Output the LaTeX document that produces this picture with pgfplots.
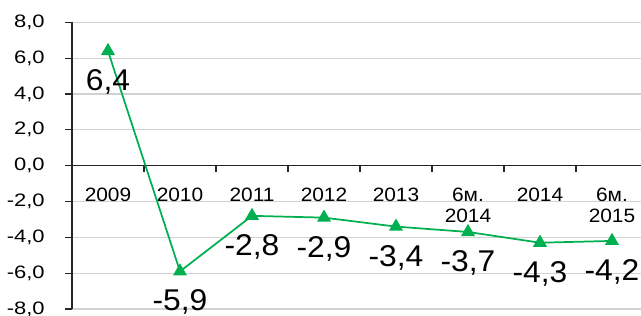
\documentclass[border=0pt]{standalone}
\usepackage{pgfplots}
\pgfplotsset{compat=1.18}
\usepackage{fontspec}
\setmainfont{Liberation Sans}
\newfontfamily\ylabfont[FakeStretch=1.22]{Liberation Sans}
\newfontfamily\xlabfont[FakeStretch=1.08]{Liberation Sans}
\newfontfamily\dlabfont[FakeStretch=1.06]{Liberation Sans}
\definecolor{lgreen}{RGB}{0,176,80}
\begin{document}
\begin{tikzpicture}
\begin{axis}[name=ax, at={(0,0)}, anchor=south west,
 scale only axis, width=432pt, height=215pt,
 xmin=-0.5, xmax=7.5, ymin=-8, ymax=8,
 axis y line=left, axis x line=middle,
 axis line style={-, black!85, line width=0.9pt},
 ytick={-8,-6,...,8}, ymajorgrids, grid style={gray!35, line width=0.9pt},
 yticklabel={\pgfmathprintnumber[fixed,fixed zerofill,precision=1,use comma,assume math mode=true]{\tick}},
 y tick label style={font=\ylabfont\fontsize{13.5}{15}\selectfont, xshift=-12pt},
 xtick={-0.5,0.5,...,7.5}, x tick label as interval,
 hide obscured x ticks=false,
 xticklabels={2009,2010,2011,2012,2013,{6м.\\2014},2014,{6м.\\2015}},
 x tick label style={align=center, font=\xlabfont\fontsize{14.5}{15.75}\selectfont, anchor=north, yshift=-8pt},
 xtick align=outside, ytick align=outside,
 major tick length=5pt,
 tick style={black!85, line width=0.9pt},
 nodes near coords={\pgfmathprintnumber[fixed,precision=1,use comma,assume math mode=true]{\pgfplotspointmeta}},
 nodes near coords style={anchor=north, font=\dlabfont\fontsize{22.5}{26}\selectfont, black, yshift=-10pt},
 clip=false,
]
\addplot[lgreen, line width=1.3pt, mark=triangle*, mark size=4.8pt, mark options={fill=lgreen, draw=lgreen}]
 coordinates {(0,6.4) (1,-5.9) (2,-2.8) (3,-2.9) (4,-3.4) (5,-3.7) (6,-4.3) (7,-4.2)};
\end{axis}
\pgfresetboundingbox
\useasboundingbox ([shift={(-54pt,-4.5pt)}]ax.south west) rectangle ([shift={(426.75pt,231.75pt)}]ax.south west);
\end{tikzpicture}
\end{document}
